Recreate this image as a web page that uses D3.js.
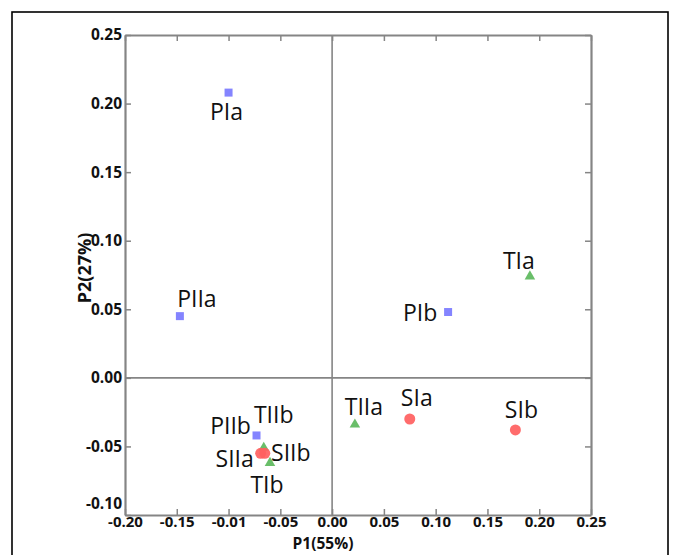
<!DOCTYPE html>
<html>
<head>
<meta charset="utf-8">
<script src="https://cdn.jsdelivr.net/npm/d3@7/dist/d3.min.js"></script>
<style>
  html, body { margin: 0; padding: 0; background: #fff; }
  svg { display: block; }
</style>
</head>
<body>
<svg id="chart" width="673" height="555"></svg>
<script>
// ---- data ----
const sampleNames = ["PIa","PIIa","PIb","TIa","TIIa","SIa","SIb","PIIb","TIIb","SIIa","SIIb","TIb"];
const p1Values    = [-0.100,-0.147,0.112,0.191,0.022,0.075,0.177,-0.073,-0.066,-0.069,-0.065,-0.060];
const p2Values    = [0.208,0.045,0.048,0.074,-0.034,-0.030,-0.038,-0.042,-0.051,-0.055,-0.055,-0.062];
const sampleGroup = ["P","P","P","T","T","S","S","P","T","S","S","T"];
const xTickValues = [-0.20,-0.15,-0.10,-0.05,0.00,0.05,0.10,0.15,0.20,0.25];
const xTickLabels = ["-0.20","-0.15","-0.01","-0.05","0.00","0.05","0.10","0.15","0.20","0.25"];
const yTickValues = [0.25,0.20,0.15,0.10,0.05,0.00,-0.05,-0.10];
const yTickLabels = ["0.25","0.20","0.15","0.10","0.05","0.00","-0.05","-0.10"];
const xTitle = "P1(55%)";
const yTitle = "P2(27%)";

// ---- layout (label offsets in px, not data) ----
const labelOffsets = [[-2,18],[17,-18],[-28,0],[-11,-16],[9,-18],[7,-22],[6,-21],[-26,-10],[10,-34],[-26,5],[26,-1],[-3,21]];

const svg = d3.select("#chart");
const x = d3.scaleLinear().domain([-0.20, 0.25]).range([125, 591]);
const y = d3.scaleLinear().domain([-0.10, 0.25]).range([515, 35]);
const axisColor = "#858585";
const font = "'Open Sans', 'Liberation Sans', sans-serif";

// outer frame (bottom edge off-page)
svg.append("rect").attr("x", 12).attr("y", 12).attr("width", 656).attr("height", 600)
  .attr("fill", "none").attr("stroke", "#000").attr("stroke-width", 1.6);

// zero lines
svg.append("line").attr("x1", x(0)).attr("x2", x(0)).attr("y1", y(0.25)).attr("y2", y(-0.10))
  .attr("stroke", axisColor).attr("stroke-width", 1.6);
svg.append("line").attr("x1", x(-0.20)).attr("x2", x(0.25)).attr("y1", y(0)).attr("y2", y(0))
  .attr("stroke", axisColor).attr("stroke-width", 1.6);

function styleAxis(g, fs) {
  g.select(".domain").attr("stroke", axisColor).attr("stroke-width", 2.2);
  g.selectAll(".tick line").attr("stroke", axisColor).attr("stroke-width", 1.5);
  g.selectAll(".tick text").attr("fill", "#111").style("font-family", font)
    .style("font-weight", "bold").style("font-size", fs);
}

// bottom
const gb = svg.append("g").attr("transform", `translate(0,${y(-0.10)})`)
  .call(d3.axisBottom(x).tickValues(xTickValues)
    .tickFormat((d, i) => xTickLabels[i]).tickSizeInner(-6).tickSizeOuter(0).tickPadding(1));
styleAxis(gb, "15px");
// top
const gt = svg.append("g").attr("transform", `translate(0,${y(0.25)})`)
  .call(d3.axisTop(x).tickValues(xTickValues).tickFormat("").tickSizeInner(-6).tickSizeOuter(0));
styleAxis(gt, "15px");
// left
const gl = svg.append("g").attr("transform", `translate(${x(-0.20)},0)`)
  .call(d3.axisLeft(y).tickValues(yTickValues)
    .tickFormat((d, i) => yTickLabels[i]).tickSizeInner(-6).tickSizeOuter(0).tickPadding(3));
styleAxis(gl, "15.5px");
gl.selectAll(".tick text").attr("dy", (d) => d === -0.10 ? "-0.4em" : "0.32em");
// right
const gr = svg.append("g").attr("transform", `translate(${x(0.25)},0)`)
  .call(d3.axisRight(y).tickValues(yTickValues).tickFormat("").tickSizeInner(-6).tickSizeOuter(0));
styleAxis(gr, "15px");

// axis titles
svg.append("text").attr("x", 323).attr("y", 549).attr("text-anchor", "middle")
  .style("font-family", font).style("font-weight", "bold").style("font-size", "15.5px")
  .attr("fill", "#111").text(xTitle);
svg.append("text").attr("transform", "translate(91,268) rotate(-90)").attr("text-anchor", "middle")
  .style("font-family", font).style("font-weight", "bold").style("font-size", "18px")
  .attr("fill", "#111").text(yTitle);

// points
const colors = { P: "#7a7aff", T: "#5cb85c", S: "#ff5f5f" };
const pts = sampleNames.map((n, i) => ({ n, px: x(p1Values[i]), py: y(p2Values[i]), g: sampleGroup[i], off: labelOffsets[i] }));
const sym = { P: d3.symbolSquare, T: d3.symbolTriangle, S: d3.symbolCircle };
const size = { P: 64, T: 48, S: 95 };
svg.append("g").selectAll("path").data(pts).join("path")
  .attr("transform", d => `translate(${d.px},${d.py})`)
  .attr("d", d => d3.symbol().type(sym[d.g]).size(size[d.g])())
  .attr("fill", d => colors[d.g]).attr("opacity", 0.92);

svg.append("g").selectAll("text").data(pts).join("text")
  .attr("x", d => d.px + d.off[0]).attr("y", d => d.py + d.off[1])
  .attr("text-anchor", "middle").attr("dominant-baseline", "central")
  .style("font-family", font).style("font-size", "23px").attr("fill", "#111")
  .text(d => d.n);
</script>
</body>
</html>
